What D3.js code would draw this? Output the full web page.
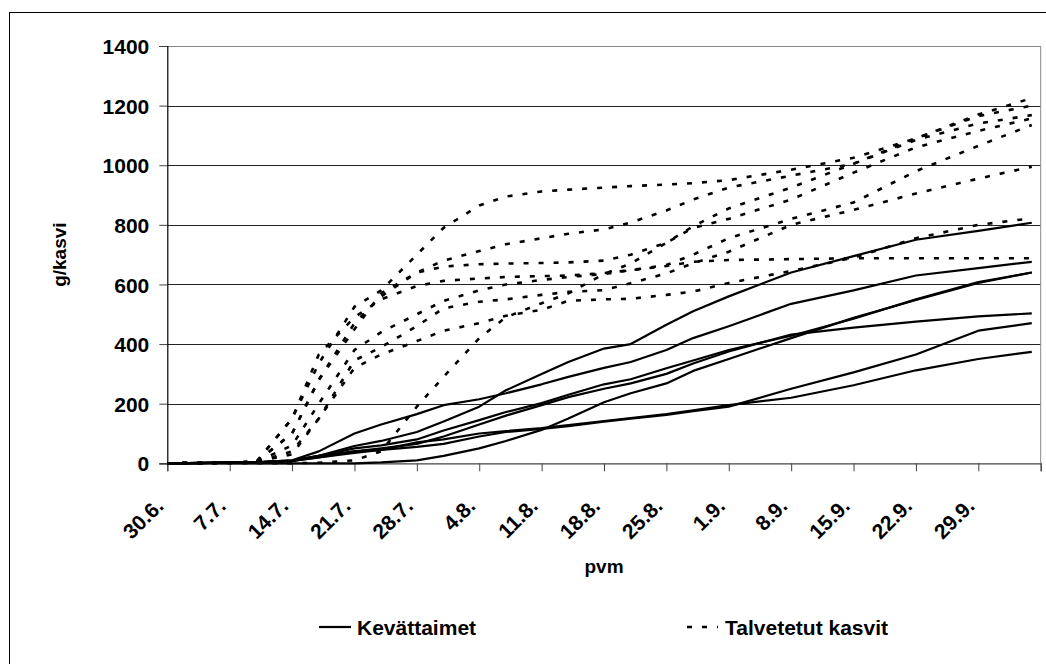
<!DOCTYPE html>
<html>
<head>
<meta charset="utf-8">
<script src="https://cdn.jsdelivr.net/npm/d3@7"></script>
<style>
  body { margin: 0; background: #fff; }
  text { font-family: Arial, "Liberation Sans", sans-serif; font-weight: bold; fill: #000; }
</style>
</head>
<body>
<svg id="chart" width="1046" height="664"></svg>
<script>
// measuring days, counted from 30.6.
const days = [0, 7, 10, 14, 17, 21, 24, 28, 31, 35, 38, 42, 45, 49, 52, 56, 59, 63, 70, 77, 84, 91, 97];

// x axis ticks (weekly) and their labels
const tickDays = [0, 7, 14, 21, 28, 35, 42, 49, 56, 63, 70, 77, 84, 91, 98];
const tickLabels = ["30.6.", "7.7.", "14.7.", "21.7.", "28.7.", "4.8.", "11.8.", "18.8.",
  "25.8.", "1.9.", "8.9.", "15.9.", "22.9.", "29.9."];
const yTicks = [0, 200, 400, 600, 800, 1000, 1200, 1400];

// Kevättaimet (solid lines), g/kasvi
const springA = [0, 2, 3, 10, 25, 58, 75, 105, 140, 190, 245, 300, 340, 385, 400, 465, 510, 560, 640, 695, 750, 780, 807];
const springB = [0, 2, 3, 10, 40, 100, 130, 165, 195, 215, 235, 265, 290, 320, 340, 380, 420, 460, 535, 580, 630, 655, 676];
const springC = [0, 2, 3, 8, 25, 50, 60, 80, 110, 145, 172, 202, 230, 265, 282, 319, 345, 380, 428, 485, 550, 608, 640];
const springE = [0, 2, 3, 8, 20, 40, 50, 65, 90, 130, 160, 195, 222, 250, 268, 300, 335, 375, 432, 455, 475, 493, 503];
const springF = [0, 0, 0, 0, 0, 0, 3, 10, 25, 50, 75, 112, 150, 205, 235, 268, 310, 350, 420, 488, 548, 605, 640];
const springG = [0, 2, 3, 8, 20, 35, 45, 55, 65, 90, 105, 115, 125, 140, 150, 162, 175, 190, 250, 305, 365, 445, 470];
const springH = [0, 2, 3, 8, 25, 40, 45, 70, 80, 100, 108, 118, 128, 142, 152, 165, 178, 195, 220, 262, 312, 350, 374];

// Talvetetut kasvit (dashed lines), g/kasvi
const winterA = [0, 2, 5, 150, 335, 525, 580, 700, 790, 865, 895, 912, 918, 925, 930, 935, 940, 950, 985, 1025, 1090, 1170, 1225];
const winterB = [0, 2, 5, 100, 280, 470, 560, 640, 680, 712, 735, 755, 770, 785, 808, 848, 885, 925, 965, 1005, 1085, 1140, 1168];
const winterC = [0, 0, 0, 0, 2, 10, 40, 190, 290, 420, 490, 537, 570, 635, 670, 740, 795, 855, 925, 1005, 1090, 1165, 1200];
const winterD = [0, 2, 5, 150, 365, 490, 550, 595, 612, 620, 625, 628, 630, 638, 648, 662, 676, 682, 685, 688, 688, 688, 688];
const winterE = [0, 2, 5, 100, 280, 450, 570, 640, 660, 668, 670, 672, 674, 680, 700, 740, 790, 820, 885, 975, 1060, 1115, 1157];
const winterF = [0, 2, 5, 60, 200, 380, 440, 500, 545, 580, 600, 615, 625, 635, 648, 665, 700, 755, 820, 875, 980, 1065, 1135];
const winterG = [0, 2, 5, 40, 150, 345, 390, 460, 520, 542, 550, 565, 575, 581, 604, 637, 671, 710, 800, 850, 905, 955, 995];
const winterH = [0, 2, 5, 30, 150, 320, 365, 410, 445, 470, 495, 515, 545, 550, 552, 565, 576, 605, 645, 690, 755, 800, 822];

const springSeries = [springA, springB, springC, springE, springF, springG, springH];
const winterSeries = [winterA, winterB, winterC, winterD, winterE, winterF, winterG, winterH];

const plotLeft = 167.3, plotRight = 1040.7, plotTop = 46, plotBottom = 463.3;

let svg = d3.select('#chart');

// outer chart frame (runs off the picture at right and bottom)
svg.append('rect')
  .attr('x', 9.5).attr('y', 12.5)
  .attr('width', 1100).attr('height', 700)
  .attr('fill', 'none').attr('stroke', '#000').attr('stroke-width', 1);

let x = d3.scaleLinear().domain([0, 98]).range([plotLeft, plotRight]);
let y = d3.scaleLinear().domain([0, 1400]).range([plotBottom, plotTop]);

// gridlines
svg.append('g')
  .selectAll('line')
  .data(yTicks.slice(1))
  .enter().append('line')
  .attr('x1', plotLeft).attr('x2', plotRight)
  .attr('y1', d => Math.round(y(d)) + 0.5).attr('y2', d => Math.round(y(d)) + 0.5)
  .attr('stroke', d => d === 1400 ? '#888' : '#222')
  .attr('stroke-width', 1);

// right border of plot area
svg.append('line')
  .attr('x1', plotRight).attr('x2', plotRight)
  .attr('y1', plotTop).attr('y2', plotBottom)
  .attr('stroke', '#888');

// y axis
let yAxis = svg.append('g')
  .attr('transform', 'translate(' + plotLeft + ',0)')
  .call(d3.axisLeft(y).tickValues(yTicks).tickSize(8).tickPadding(10).tickFormat(d3.format('d')));
yAxis.select('.domain').attr('stroke', '#000').attr('stroke-width', 1.2);
yAxis.selectAll('.tick line').attr('stroke', '#444');
yAxis.selectAll('text').style('font-size', '21px').attr('dy', '0.36em');

// x axis
let xAxis = svg.append('g')
  .attr('transform', 'translate(0,' + plotBottom + ')')
  .call(d3.axisBottom(x).tickValues(tickDays).tickSize(8)
    .tickFormat((d, i) => tickLabels[i] || ''));
xAxis.select('.domain').attr('stroke', '#444').attr('stroke-width', 1.2);
xAxis.selectAll('.tick line').attr('stroke', '#444');
xAxis.selectAll('text')
  .style('font-size', '21px')
  .attr('text-anchor', 'end')
  .attr('y', 0).attr('dy', 0)
  .attr('transform', 'translate(-3,44) rotate(-45)');

// axis titles
svg.append('text')
  .attr('transform', 'translate(66,' + (plotTop + plotBottom) / 2 + ') rotate(-90)')
  .attr('text-anchor', 'middle')
  .style('font-size', '19px')
  .text('g/kasvi');

svg.append('text')
  .attr('x', (plotLeft + plotRight) / 2).attr('y', 573)
  .attr('text-anchor', 'middle')
  .style('font-size', '19px')
  .text('pvm');

// the lines
let line = d3.line()
  .x((d, i) => x(days[i]))
  .y(d => y(d));

svg.append('g')
  .selectAll('path')
  .data(springSeries)
  .enter().append('path')
  .attr('d', line)
  .attr('fill', 'none')
  .attr('stroke', '#000')
  .attr('stroke-width', 2.2)
  .attr('stroke-linejoin', 'round');

svg.append('g')
  .selectAll('path')
  .data(winterSeries)
  .enter().append('path')
  .attr('d', line)
  .attr('fill', 'none')
  .attr('stroke', '#000')
  .attr('stroke-width', 2.6)
  .attr('stroke-dasharray', '5,10');

// legend
let legend = svg.append('g');
legend.append('line')
  .attr('x1', 319).attr('x2', 351).attr('y1', 627).attr('y2', 627)
  .attr('stroke', '#000').attr('stroke-width', 2.2);
legend.append('text')
  .attr('x', 357).attr('y', 635)
  .style('font-size', '21px')
  .text('Kevättaimet');
legend.append('line')
  .attr('x1', 687).attr('x2', 718).attr('y1', 627).attr('y2', 627)
  .attr('stroke', '#000').attr('stroke-width', 2.6)
  .attr('stroke-dasharray', '5,10');
legend.append('text')
  .attr('x', 725).attr('y', 635)
  .style('font-size', '21px')
  .text('Talvetetut kasvit');
</script>
</body>
</html>
